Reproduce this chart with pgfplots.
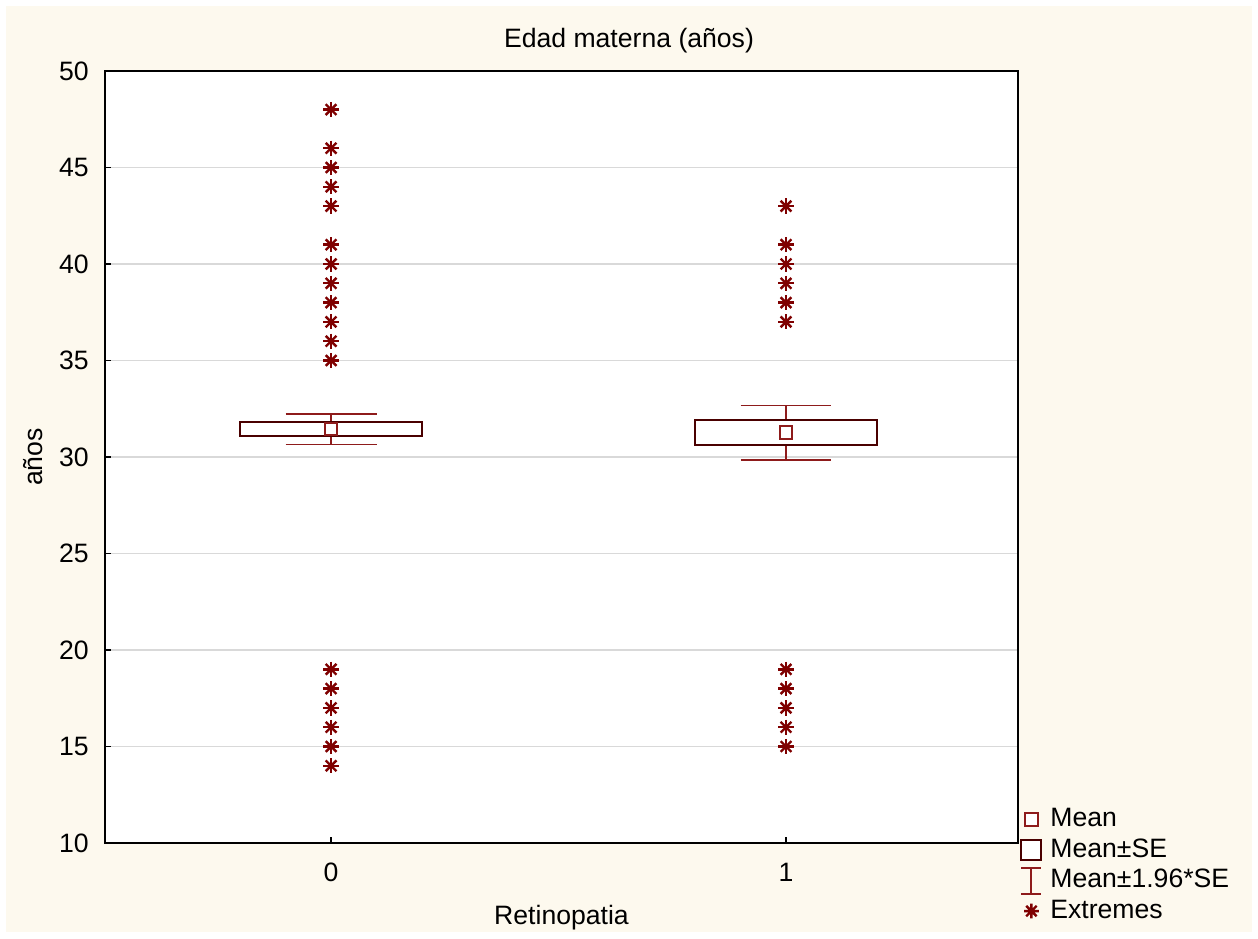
\documentclass[border=0pt]{standalone}
\usepackage{pgfplots}
\pgfplotsset{compat=1.18}
\usepackage{fontspec}
\setmainfont{Liberation Sans}
\definecolor{bgc}{HTML}{FDF9EE}
\definecolor{boxc}{HTML}{4A0000}
\definecolor{whc}{HTML}{8E1B1B}
\definecolor{exc}{HTML}{7F0000}
\newcommand{\fs}{\fontsize{13.3}{15.5}\selectfont}
\begin{document}
\fs
\begin{tikzpicture}
\fill[white] (0,0) rectangle (629pt,469pt);
\fill[bgc] (3pt,3pt) rectangle (626pt,466pt);
\begin{axis}[
  scale only axis, width=456.5pt, height=386pt,
  at={(52.5pt,47.5pt)}, anchor=south west,
  xmin=-0.497, xmax=1.51, ymin=10, ymax=50,
  xtick={0,1}, ytick={10,15,...,50},
  tick pos=left, tick align=inside, major tick length=3pt,
  tick style={black, line width=0.6pt},
  ymajorgrids, grid style={black!15, line width=0.6pt},
  axis line style={line width=0.8pt},
  axis background/.style={fill=white},
  /pgf/number format/assume math mode=true,
  ticklabel style={font=\fs},
  xticklabel style={yshift=-5.5pt},
  yticklabel style={xshift=-3.5pt},
  xlabel={Retinopatia}, ylabel={años},
  label style={font=\fs},
  xlabel style={at={(axis description cs:0.5,0)}, anchor=center, yshift=-37.5pt},
  ylabel style={at={(axis description cs:0,0.5)}, anchor=center, yshift=36pt},
  legend style={at={(1.0,0.053)}, anchor=north west, draw=none, fill=none,
    font=\fs, inner sep=1pt, row sep=0pt},
  legend cell align=left,
]
% legend entries
\addlegendimage{legend image code/.code={\path[draw=none] (0pt,0pt) -- (12.5pt,0pt); \draw[draw=whc, line width=1pt, fill=white] (1.7pt,-3.4pt) rectangle ++(6.8pt,6.8pt);}}
\addlegendentry{Mean}
\addlegendimage{legend image code/.code={\path[draw=none] (0pt,0pt) -- (12.5pt,0pt); \draw[draw=boxc, line width=1pt, fill=white] (0pt,-5pt) rectangle (10pt,5pt);}}
\addlegendentry{Mean\textpm SE}
\addlegendimage{legend image code/.code={\path[draw=none] (0pt,0pt) -- (12.5pt,0pt); \draw[draw=whc, line width=1pt] (0pt,-6.5pt) -- (10pt,-6.5pt); \draw[draw=whc, line width=1pt] (5pt,-6.5pt) -- (5pt,6.5pt); \draw[draw=whc, line width=1pt] (0pt,6.5pt) -- (10pt,6.5pt);}}
\addlegendentry{Mean\textpm 1.96*SE}
\addlegendimage{legend image code/.code={\path[draw=none] (0pt,0pt) -- (12.5pt,0pt); \draw[draw=exc, line width=1.2pt] (5pt,0pt) +(-3.7pt,0) -- +(3.7pt,0) +(0,-3.7pt) -- +(0,3.7pt) +(-2.6pt,-2.6pt) -- +(2.6pt,2.6pt) +(-2.6pt,2.6pt) -- +(2.6pt,-2.6pt);}}
\addlegendentry{Extremes}
% whiskers (Mean +- 1.96*SE)
\addplot[whc, line width=0.8pt, forget plot] coordinates {(0,31.79) (0,32.24)};
\addplot[whc, line width=0.8pt, forget plot] coordinates {(-0.1,32.24) (0.1,32.24)};
\addplot[whc, line width=0.8pt, forget plot] coordinates {(0,31.09) (0,30.64)};
\addplot[whc, line width=0.8pt, forget plot] coordinates {(-0.1,30.64) (0.1,30.64)};
\addplot[whc, line width=0.8pt, forget plot] coordinates {(1,31.92) (1,32.66)};
\addplot[whc, line width=0.8pt, forget plot] coordinates {(0.9,32.66) (1.1,32.66)};
\addplot[whc, line width=0.8pt, forget plot] coordinates {(1,30.61) (1,29.86)};
\addplot[whc, line width=0.8pt, forget plot] coordinates {(0.9,29.86) (1.1,29.86)};
% boxes (Mean +- SE)
\addplot[boxc, line width=1pt, fill=white, forget plot] coordinates {(-0.2,31.09) (0.2,31.09) (0.2,31.79) (-0.2,31.79)} --cycle;
\addplot[boxc, line width=1pt, fill=white, forget plot] coordinates {(0.8,30.61) (1.2,30.61) (1.2,31.92) (0.8,31.92)} --cycle;
% means
\addplot[only marks, mark=square, mark size=3.1pt, whc, line width=1pt, forget plot] coordinates {(0,31.44) (1,31.26)};
% extremes
\pgfplotstableread{
x y
0 48
0 46
0 45
0 44
0 43
0 41
0 40
0 39
0 38
0 37
0 36
0 35
0 19
0 18
0 17
0 16
0 15
0 14
1 43
1 41
1 40
1 39
1 38
1 37
1 19
1 18
1 17
1 16
1 15
}\extremes
\addplot[only marks, mark=+, mark size=3.8pt, exc, line width=1.2pt, forget plot] table[x=x,y=y] {\extremes};
\addplot[only marks, mark=x, mark size=3.8pt, exc, line width=1.2pt, forget plot] table[x=x,y=y] {\extremes};
\end{axis}
\node[font=\fs] at (314.5pt,448.5pt) {Edad materna (años)};
\pgfresetboundingbox
\path (0,0) rectangle (629pt,469pt);
\end{tikzpicture}
\end{document}
